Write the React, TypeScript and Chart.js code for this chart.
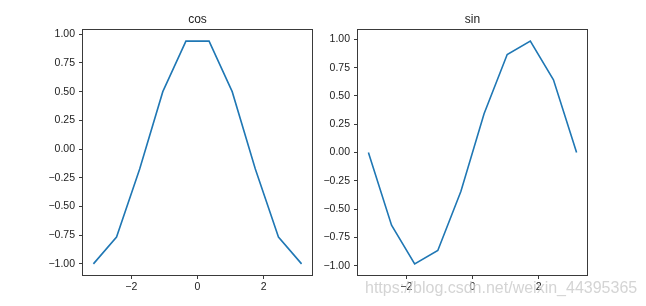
import React, { useEffect, useRef } from "react";
import { Chart, registerables } from "chart.js";

Chart.register(...registerables);

const xValues = [-3.1416, -2.4435, -1.7453, -1.0472, -0.3491, 0.3491, 1.0472, 1.7453, 2.4435, 3.1416];
const cosValues = [-1.0, -0.766, -0.1736, 0.5, 0.9397, 0.9397, 0.5, -0.1736, -0.766, -1.0];
const sinValues = [0.0, -0.6428, -0.9848, -0.866, -0.342, 0.342, 0.866, 0.9848, 0.6428, 0.0];
const xTicks = [-2, 0, 2];
const yTicks = [-1, -0.75, -0.5, -0.25, 0, 0.25, 0.5, 0.75, 1];
const titles = ["cos", "sin"];
const watermark = "https://blog.csdn.net/weixin_44395365";

const FONT = "'Liberation Sans', Arial, sans-serif";
const fmt = (v: number, d: number) => (v < 0 ? "\u2212" + Math.abs(v).toFixed(d) : v.toFixed(d));

function makeConfig(values: number[], title: string, yWidth: number, padRight: number, yMin: number, yMax: number, mark: boolean) {
  const framePlugin = {
    id: "frame" + title,
    afterDraw(chart: any) {
      const { ctx, chartArea } = chart;
      ctx.save();
      ctx.strokeStyle = "#3a3a3a";
      ctx.lineWidth = 1;
      const l = Math.round(chartArea.left) - 0.5;
      const t = Math.round(chartArea.top) - 0.5;
      const r = Math.round(chartArea.right) + 0.5;
      const b = Math.round(chartArea.bottom) + 0.5;
      ctx.strokeRect(l, t, r - l, b - t);
      ctx.fillStyle = "#222";
      ctx.font = "12px " + FONT;
      ctx.textAlign = "center";
      ctx.textBaseline = "alphabetic";
      ctx.fillText(title, (chartArea.left + chartArea.right) / 2, 23);
      if (mark) {
        ctx.fillStyle = "rgba(205,205,205,0.85)";
        ctx.font = "16px " + FONT;
        ctx.textAlign = "left";
        ctx.fillText(watermark, 75, 293);
      }
      ctx.restore();
    },
  };
  return {
    type: "line" as const,
    data: {
      datasets: [
        {
          data: xValues.map((x, i) => ({ x, y: values[i] })),
          borderColor: "#1f77b4",
          borderWidth: 1.6,
          pointRadius: 0,
          tension: 0,
          fill: false,
        },
      ],
    },
    options: {
      animation: false,
      responsive: false,
      maintainAspectRatio: false,
      layout: { padding: { top: 30, right: padRight, left: 0, bottom: 0 } },
      plugins: { legend: { display: false }, tooltip: { enabled: false }, title: { display: false } },
      scales: {
        x: {
          type: "linear",
          min: -3.4558,
          max: 3.4558,
          afterBuildTicks: (s: any) => {
            s.ticks = xTicks.map((v) => ({ value: v }));
          },
          afterFit: (s: any) => {
            s.height = 31;
          },
          ticks: {
            autoSkip: false,
            maxRotation: 0,
            padding: 2,
            color: "#222",
            font: { family: FONT, size: 10.5 },
            callback: (v: any) => fmt(Number(v), 0),
          },
          grid: { display: true, drawOnChartArea: false, drawTicks: true, tickLength: 4, tickColor: "#3a3a3a" },
          border: { display: false },
        },
        y: {
          type: "linear",
          min: yMin,
          max: yMax,
          afterBuildTicks: (s: any) => {
            s.ticks = yTicks.map((v) => ({ value: v }));
          },
          afterFit: (s: any) => {
            s.width = yWidth;
          },
          ticks: {
            autoSkip: false,
            padding: 4,
            color: "#222",
            font: { family: FONT, size: 10.5 },
            callback: (v: any) => fmt(Number(v), 2),
          },
          grid: { display: true, drawOnChartArea: false, drawTicks: true, tickLength: 4, tickColor: "#3a3a3a" },
          border: { display: false },
        },
      },
    },
    plugins: [framePlugin],
  };
}

export default function App() {
  const leftRef = useRef<HTMLCanvasElement>(null);
  const rightRef = useRef<HTMLCanvasElement>(null);

  useEffect(() => {
    const c1 = new Chart(leftRef.current!, makeConfig(cosValues, titles[0], 83, 11, -1.097, 1.037, false) as any);
    const c2 = new Chart(rightRef.current!, makeConfig(sinValues, titles[1], 68, 59, -1.083, 1.083, true) as any);
    return () => {
      c1.destroy();
      c2.destroy();
    };
  }, []);

  return (
    <div style={{ position: "absolute", left: 0, top: 0, width: 646, height: 306, background: "#fff" }}>
      <canvas ref={leftRef} width={323} height={306} style={{ position: "absolute", left: 0, top: 0, width: 323, height: 306 }} />
      <canvas ref={rightRef} width={356} height={306} style={{ position: "absolute", left: 290, top: 0, width: 356, height: 306 }} />
    </div>
  );
}
